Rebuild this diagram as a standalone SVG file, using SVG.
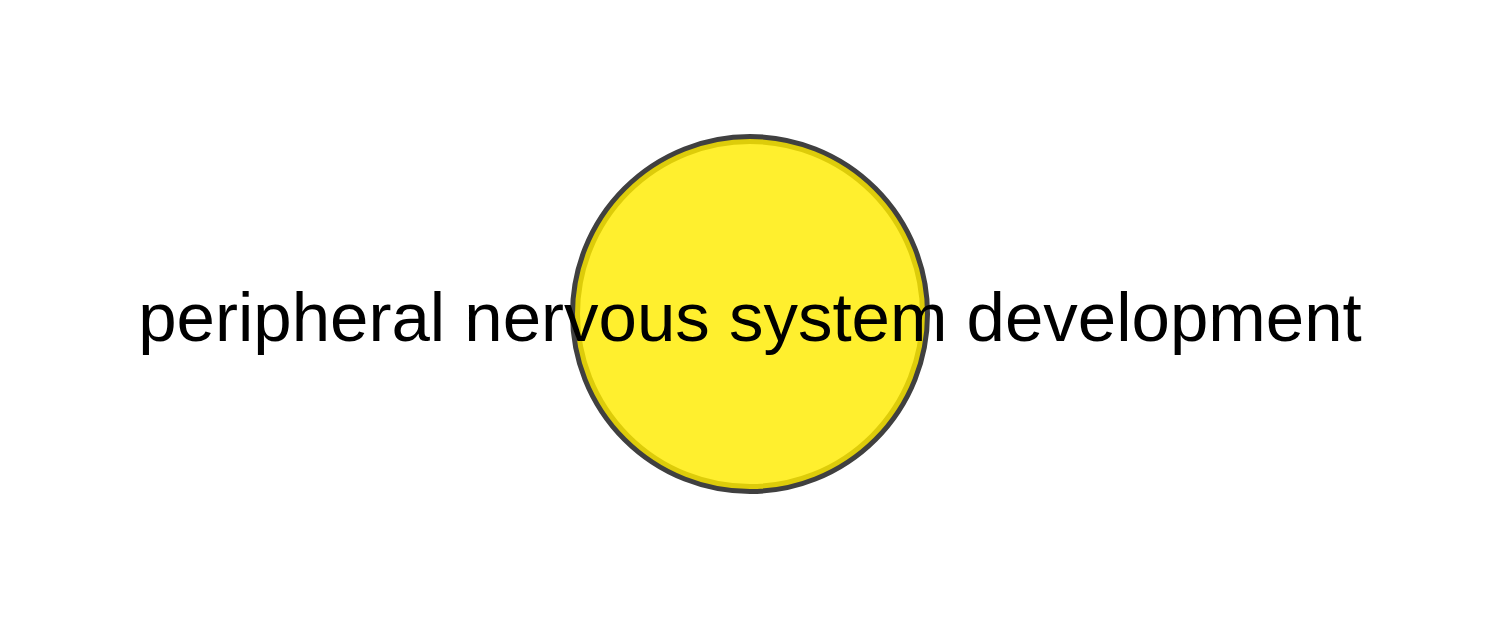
<svg xmlns="http://www.w3.org/2000/svg" width="1500" height="630" viewBox="0 0 1500 630">
<style>
.lbl{font-family:"Liberation Sans",Arial,sans-serif;font-size:69px;fill:#000;text-anchor:middle}
</style>
<rect width="1500" height="630" fill="#fff"/>
<g id="connectors"></g>
<g id="node1">
<circle cx="750" cy="314" r="173" fill="#ffef2e" stroke="#ddcc0a" stroke-width="6"/>
<circle cx="750" cy="314" r="177.5" fill="none" stroke="#404040" stroke-width="5"/>
<text class="lbl" x="750" y="341">peripheral nervous system development</text>
</g>
</svg>
